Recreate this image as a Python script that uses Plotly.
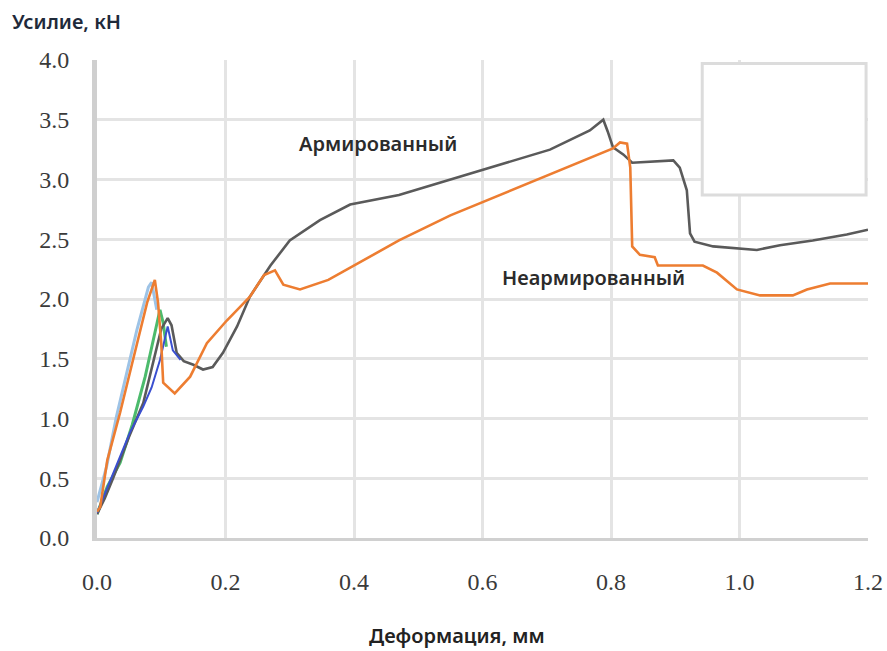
import plotly.graph_objects as go

# Reinforced specimen (Армированный)
arm_x = [0.0, 0.012, 0.025, 0.05, 0.072, 0.087, 0.1, 0.11, 0.116, 0.124, 0.135, 0.15, 0.165,
         0.18, 0.196, 0.218, 0.238, 0.27, 0.30, 0.347, 0.394, 0.47, 0.55, 0.627, 0.705,
         0.767, 0.788, 0.795, 0.803, 0.819, 0.833, 0.897, 0.907, 0.918, 0.923, 0.93,
         0.959, 1.027, 1.063, 1.114, 1.167, 1.2]
arm_y = [0.2, 0.33, 0.5, 0.85, 1.13, 1.46, 1.75, 1.84, 1.78, 1.55, 1.48, 1.45, 1.41,
         1.43, 1.55, 1.77, 2.02, 2.28, 2.49, 2.66, 2.79, 2.87, 3.0, 3.12, 3.25,
         3.41, 3.5, 3.4, 3.27, 3.21, 3.14, 3.16, 3.1, 2.91, 2.55, 2.48,
         2.44, 2.41, 2.45, 2.49, 2.54, 2.58]

# Unreinforced specimen (Неармированный)
nearm_x = [0.0, 0.005, 0.016, 0.036, 0.056, 0.078, 0.09, 0.095, 0.1, 0.103, 0.121, 0.145,
           0.171, 0.202, 0.222, 0.238, 0.26, 0.277, 0.29, 0.316, 0.36, 0.40, 0.47, 0.55,
           0.627, 0.705, 0.783, 0.803, 0.814, 0.825, 0.83, 0.833, 0.845, 0.868, 0.873,
           0.943, 0.965, 0.996, 1.032, 1.083, 1.105, 1.141, 1.2]
nearm_y = [0.22, 0.26, 0.65, 1.05, 1.49, 1.97, 2.16, 1.97, 1.63, 1.3, 1.21, 1.35,
           1.63, 1.82, 1.93, 2.02, 2.2, 2.24, 2.12, 2.08, 2.16, 2.28, 2.49, 2.7,
           2.87, 3.04, 3.21, 3.26, 3.31, 3.3, 3.1, 2.44, 2.37, 2.35, 2.28,
           2.28, 2.22, 2.08, 2.03, 2.03, 2.08, 2.13, 2.13]

# Additional early-stage specimens
lb_x = [0.0, 0.015, 0.03, 0.045, 0.062, 0.08, 0.085, 0.093]
lb_y = [0.3, 0.6, 1.01, 1.35, 1.74, 2.1, 2.14, 1.91]

blue_x = [0.0, 0.025, 0.051, 0.072, 0.085, 0.098, 0.11, 0.118, 0.13]
blue_y = [0.21, 0.54, 0.88, 1.1, 1.26, 1.49, 1.77, 1.57, 1.49]

green_x = [0.0, 0.016, 0.036, 0.055, 0.075, 0.09, 0.098, 0.103, 0.108]
green_y = [0.2, 0.43, 0.63, 0.95, 1.35, 1.7, 1.91, 1.8, 1.6]

x_ticks = [0.0, 0.2, 0.4, 0.6, 0.8, 1.0, 1.2]
y_ticks = [0.0, 0.5, 1.0, 1.5, 2.0, 2.5, 3.0, 3.5, 4.0]

label_font = dict(family="Noto Sans", size=20, color="#2b2b2b", weight=600)

fig = go.Figure()
fig.add_trace(go.Scatter(x=lb_x, y=lb_y, mode="lines",
                         line=dict(color="#9dc3e6", width=3)))
fig.add_trace(go.Scatter(x=green_x, y=green_y, mode="lines",
                         line=dict(color="#4cbb6c", width=3)))
fig.add_trace(go.Scatter(x=arm_x, y=arm_y, mode="lines",
                         line=dict(color="#5a5a5a", width=2.6)))
fig.add_trace(go.Scatter(x=blue_x, y=blue_y, mode="lines",
                         line=dict(color="#3a4fd0", width=2)))
fig.add_trace(go.Scatter(x=nearm_x, y=nearm_y, mode="lines",
                         line=dict(color="#ed7d31", width=2.6)))

# empty inset frame in the upper right corner
fig.add_shape(type="rect", xref="x", yref="y", x0=0.942, x1=1.197, y0=2.87, y1=3.97,
              line=dict(color="#dcdcdc", width=3), fillcolor="white", layer="above")

fig.add_annotation(x=0.437, y=3.305, text="Армированный", showarrow=False, font=label_font)
fig.add_annotation(x=0.772, y=2.18, text="Неармированный", showarrow=False, font=label_font)

fig.add_annotation(xref="paper", yref="paper", x=-0.113, y=1.0795, xanchor="left",
                   yanchor="middle", text="Усилие, кН", showarrow=False,
                   font=dict(family="Noto Sans", size=20, color="#1f2a3a", weight=600))
fig.add_annotation(xref="paper", yref="paper", x=0.467, y=-0.203, xanchor="center",
                   yanchor="middle", text="Деформация, мм", showarrow=False,
                   font=dict(family="Noto Sans", size=20, color="#222", weight=600))

fig.update_layout(
    width=887, height=651,
    margin=dict(l=97, r=19, t=60, b=113),
    paper_bgcolor="white", plot_bgcolor="white",
    showlegend=False,
    xaxis=dict(range=[0, 1.2], tickvals=x_ticks, ticktext=[f"{v:.1f}" for v in x_ticks],
               showgrid=True, gridcolor="#e4e4e4", gridwidth=3, automargin=False,
               showline=True, linecolor="#d0d0d0", linewidth=3, zeroline=False,
               ticks="", ticklabelstandoff=20,
               tickfont=dict(family="Liberation Serif", size=24, color="#3a3a3a")),
    yaxis=dict(range=[0, 4], tickvals=y_ticks, ticktext=[f"{v:.1f}" for v in y_ticks],
               showgrid=True, gridcolor="#e4e4e4", gridwidth=3, automargin=False,
               showline=True, linecolor="#cfcfcf", linewidth=5, zeroline=False,
               ticks="", ticklabelstandoff=18,
               tickfont=dict(family="Liberation Serif", size=24, color="#3a3a3a")),
)

fig.write_html("out.html")
